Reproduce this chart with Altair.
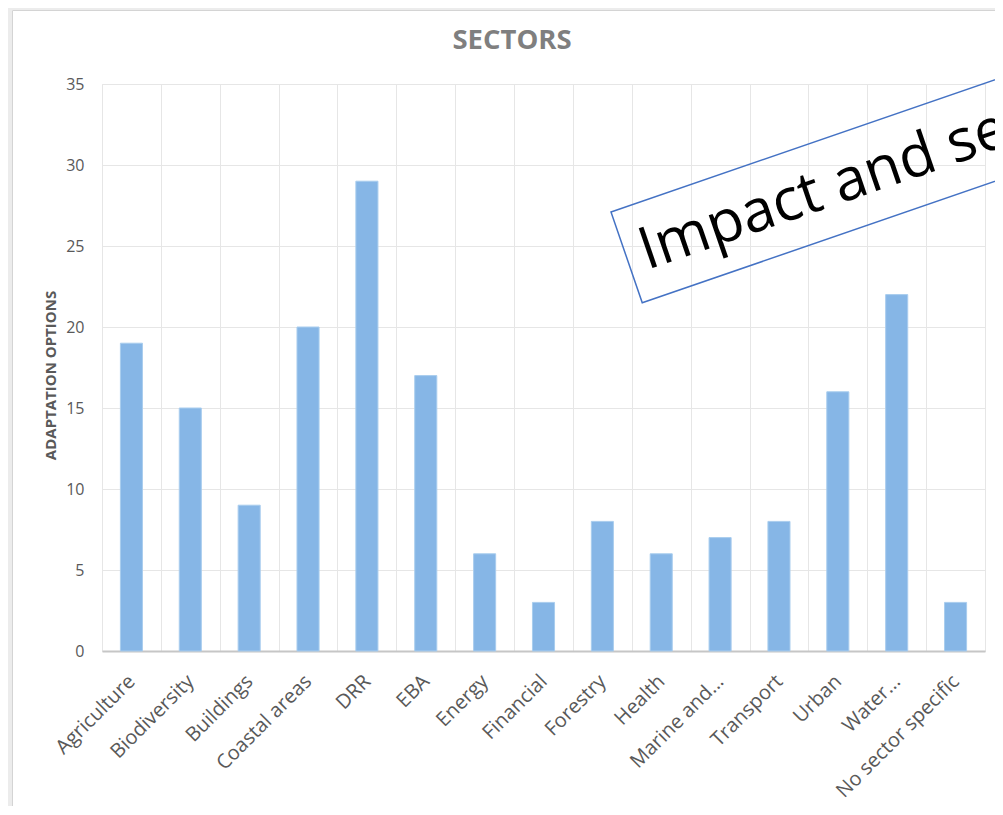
import math
import altair as alt
import pandas as pd

# ---- data ----
sectors = ["Agriculture", "Biodiversity", "Buildings", "Coastal areas", "DRR", "EBA",
           "Energy", "Financial", "Forestry", "Health", "Marine and...", "Transport",
           "Urban", "Water...", "No sector specific"]
options = [19, 15, 9, 20, 29, 17, 6, 3, 8, 6, 7, 8, 16, 22, 3]
y_ticks = [0, 5, 10, 15, 20, 25, 30, 35]

df = pd.DataFrame({"sector": sectors, "options": options})

W, H = 883, 567
GRID = "#e6e6e6"
LABEL = "#595959"

x = alt.X("sector:N", sort=sectors, title=None,
          scale=alt.Scale(paddingInner=0, paddingOuter=0),
          axis=alt.Axis(labelAngle=315, labelAlign="right", labelBaseline="middle",
                        labelFont="Open Sans", labelFontSize=20, labelColor=LABEL,
                        labelPadding=27, labelOffset=0, ticks=False,
                        domainColor="#c6c6c6", domainWidth=2,
                        grid=True, gridColor=GRID, tickBand="extent",
                        labelOverlap=False, labelLimit=300))
y = alt.Y("options:Q", title="ADAPTATION OPTIONS",
          scale=alt.Scale(domain=[0, 35], nice=False),
          axis=alt.Axis(values=y_ticks, ticks=False, domain=False, gridColor=GRID,
                        labelFont="Open Sans", labelFontSize=16, labelColor=LABEL,
                        labelPadding=18, titleFont="Open Sans", titleFontSize=15,
                        titleFontWeight="bold", titleColor=LABEL, titleX=-52, titleY=291,
                        titleAngle=270, titleAlign="center", titleBaseline="middle"))

bars = alt.Chart(df).mark_bar(width=alt.RelativeBandSize(0.375), fill="#86b6e6",
                              stroke="#a9cdee", strokeWidth=1).encode(x=x, y=y)

one = pd.DataFrame({"a": [0]})

# ---- frame of the pasted chart (left / top edges) ----
strip_left = alt.Chart(one).mark_rect(fill="#ececec").encode(
    x=alt.value(-94), x2=alt.value(-90), y=alt.value(-76), y2=alt.value(H + 155))
strip_top = alt.Chart(one).mark_rect(fill="#ececec").encode(
    x=alt.value(-94), x2=alt.value(W + 10), y=alt.value(-76), y2=alt.value(-74))
frame = alt.Chart(one).mark_rect(fill=None, stroke="#d4d4d4", strokeWidth=1).encode(
    x=alt.value(-89.5), x2=alt.value(W + 60), y=alt.value(-73.5), y2=alt.value(H + 200))

# ---- chart title ----
title = alt.Chart(one).mark_text(text="SECTORS", font="Open Sans", fontSize=27.5,
                                 fontWeight="bold", color="#7f7f7f", align="center",
                                 baseline="alphabetic").encode(
    x=alt.value(410), y=alt.value(-35))

# ---- rotated annotation box ----
ang = 19.0
ca, sa = math.cos(math.radians(ang)), math.sin(math.radians(ang))
box_len, box_h = 560.0, 96.0
corner_x, corner_y = 611 - 102, 212 - 84  # top-left corner relative to plot origin
cx = corner_x + box_len / 2 * ca + box_h / 2 * sa
cy = corner_y - box_len / 2 * sa + box_h / 2 * ca
hh = box_h / box_len
path = f"M-1,{-hh:.4f}L1,{-hh:.4f}L1,{hh:.4f}L-1,{hh:.4f}Z"

box = alt.Chart(one).mark_point(shape=path, size=box_len ** 2, angle=360 - ang,
                                filled=False, stroke="#4472c4", strokeWidth=1.5,
                                opacity=1).encode(x=alt.value(cx), y=alt.value(cy))
txt = alt.Chart(one).mark_text(text="Impact and sector", angle=360 - ang, align="left",
                               baseline="alphabetic", font="Open Sans", fontSize=59,
                               color="black").encode(x=alt.value(545), y=alt.value(186))

chart = alt.layer(strip_left, strip_top, frame, title, bars, box, txt).properties(
    width=W, height=H,
    padding={"left": 94, "top": 76, "right": 10, "bottom": 155},
    autosize=alt.AutoSizeParams(type="none"),
).configure_view(stroke=GRID)

chart.save("out.html", embed_options={"renderer": "svg", "actions": False})
